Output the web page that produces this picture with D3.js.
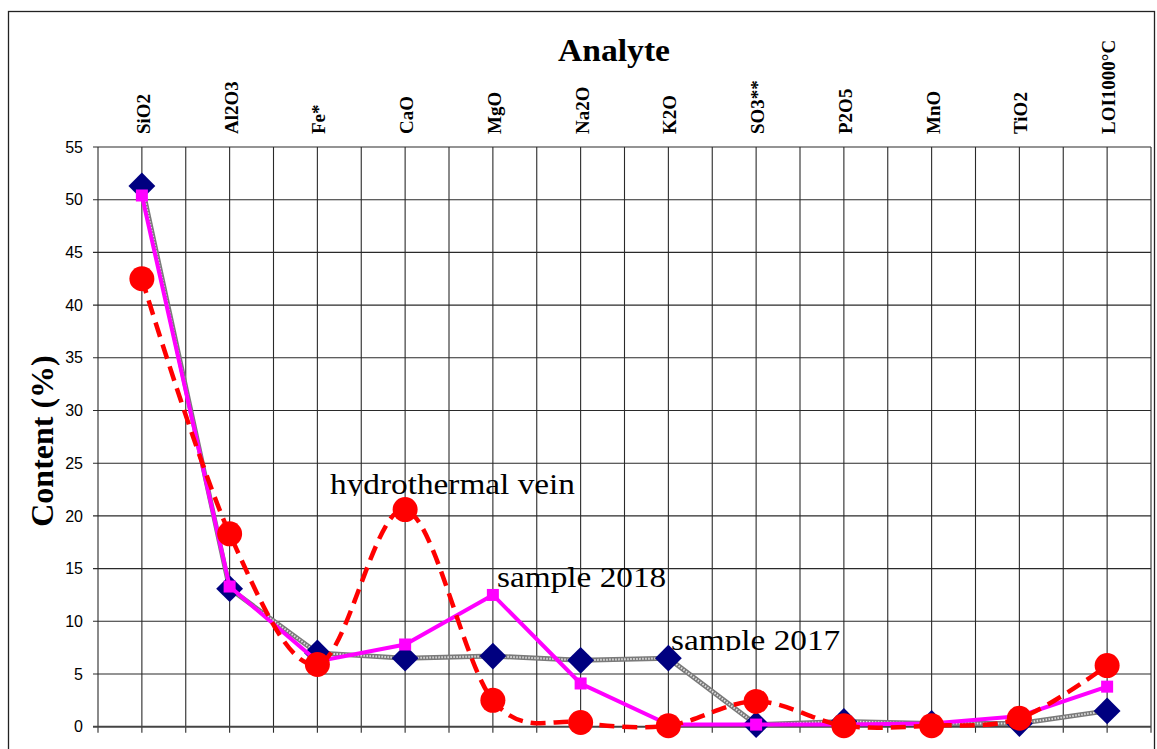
<!DOCTYPE html>
<html>
<head>
<meta charset="utf-8">
<script src="https://cdn.jsdelivr.net/npm/d3@7"></script>
<style>
  body { margin: 0; background: #fff; }
  svg { display: block; }
</style>
</head>
<body>
<div id="main"></div>
<script>
const categories = ["SiO2", "Al2O3", "Fe*", "CaO", "MgO", "Na2O", "K2O", "SO3**", "P2O5", "MnO", "TiO2", "LOI1000°C"];
const sample2017 = [51.3, 13.1, 7.0, 6.5, 6.7, 6.3, 6.5, 0.2, 0.5, 0.3, 0.3, 1.5];
const sample2018 = [50.4, 13.3, 6.2, 7.8, 12.5, 4.1, 0.2, 0.2, 0.2, 0.3, 1.0, 3.8];
const vein = [42.5, 18.3, 5.9, 20.6, 2.5, 0.4, 0.1, 2.4, 0.1, 0.1, 0.8, 5.8];
const yTicks = [0, 5, 10, 15, 20, 25, 30, 35, 40, 45, 50, 55];

const width = 1157, height = 749;
const plotL = 98, plotR = 1151, plotT = 147, plotB = 726.7;

const svg = d3.select('#main')
    .append('svg')
    .attr('width', width)
    .attr('height', height);

// outer chart border
svg.append('rect')
    .attr('x', 8.5).attr('y', 11.5)
    .attr('width', 1146).attr('height', 760)
    .attr('fill', 'none')
    .attr('stroke', '#222')
    .attr('stroke-width', 1.3);

const x = d3.scaleBand().domain(categories).range([plotL, plotR]);
const bw = x.bandwidth();
const cx = d => x(d) + bw / 2;
const y = d3.scaleLinear().domain([0, 55]).range([plotB, plotT]);

// vertical gridlines at band edges and centres
const vLines = [];
categories.forEach(c => { vLines.push(x(c)); vLines.push(cx(c)); });
vLines.push(plotR);

const grid = svg.append('g');
grid.selectAll('line.v')
    .data(vLines)
    .enter().append('line')
    .attr('class', 'v')
    .attr('x1', d => d).attr('x2', d => d)
    .attr('y1', plotT).attr('y2', plotB + 6)
    .attr('stroke', '#2a2a2a')
    .attr('stroke-width', 1.1);

grid.selectAll('line.h')
    .data(yTicks)
    .enter().append('line')
    .attr('class', 'h')
    .attr('x1', plotL - 5).attr('x2', plotR)
    .attr('y1', d => y(d)).attr('y2', d => y(d))
    .attr('stroke', d => d === 0 ? '#444' : '#2a2a2a')
    .attr('stroke-width', d => d === 0 ? 2 : 1.1);

// y tick labels
svg.append('g').selectAll('text')
    .data(yTicks)
    .enter().append('text')
    .attr('x', 83)
    .attr('y', d => y(d))
    .attr('dy', '0.35em')
    .attr('text-anchor', 'end')
    .style('font-family', 'Liberation Sans, Arial, sans-serif')
    .style('font-size', '16px')
    .text(d => d);

// category labels (rotated, above plot)
svg.append('g').selectAll('text')
    .data(categories)
    .enter().append('text')
    .attr('transform', d => `translate(${cx(d) + 8},134) rotate(-90)`)
    .attr('text-anchor', 'start')
    .style('font-family', 'Liberation Serif, Times New Roman, serif')
    .style('font-weight', 'bold')
    .style('font-size', '19px')
    .text(d => d);

svg.append('text')
    .attr('transform', 'translate(614,61) scale(1.05,1)')
    .attr('text-anchor', 'middle')
    .style('font-family', 'Liberation Serif, Times New Roman, serif')
    .style('font-weight', 'bold')
    .style('font-size', '32px')
    .text('Analyte');

svg.append('text')
    .attr('transform', 'translate(53,441) rotate(-90)')
    .attr('text-anchor', 'middle')
    .style('font-family', 'Liberation Serif, Times New Roman, serif')
    .style('font-weight', 'bold')
    .style('font-size', '32px')
    .text('Content (%)');

const pts = vals => categories.map((c, i) => [cx(c), y(vals[i])]);

// sample 2017: grey patterned line + navy diamonds
const line = d3.line();
svg.append('path')
    .attr('d', line(pts(sample2017)))
    .attr('fill', 'none')
    .attr('stroke', '#7a7a7a')
    .attr('stroke-width', 5);
svg.append('path')
    .attr('d', line(pts(sample2017)))
    .attr('fill', 'none')
    .attr('stroke', '#e0e0e0')
    .attr('stroke-width', 2)
    .attr('stroke-dasharray', '1.5,1.5');
svg.append('g').selectAll('path')
    .data(pts(sample2017))
    .enter().append('path')
    .attr('d', d3.symbol(d3.symbolSquare, 360))
    .attr('transform', d => `translate(${d[0]},${d[1]}) rotate(45)`)
    .attr('fill', '#000080');

// sample 2018: magenta line + squares
svg.append('path')
    .attr('d', line(pts(sample2018)))
    .attr('fill', 'none')
    .attr('stroke', '#ff00ff')
    .attr('stroke-width', 4);
svg.append('g').selectAll('rect')
    .data(pts(sample2018))
    .enter().append('rect')
    .attr('x', d => d[0] - 6).attr('y', d => d[1] - 6)
    .attr('width', 12).attr('height', 12)
    .attr('fill', '#ff00ff');

// hydrothermal vein: smoothed red dashed line + circles
svg.append('path')
    .attr('d', d3.line().curve(d3.curveCatmullRom.alpha(0))(pts(vein)))
    .attr('fill', 'none')
    .attr('stroke', '#ff0000')
    .attr('stroke-width', 4.5)
    .attr('stroke-dasharray', '15,8');
svg.append('g').selectAll('circle')
    .data(pts(vein))
    .enter().append('circle')
    .attr('cx', d => d[0]).attr('cy', d => d[1])
    .attr('r', 12.5)
    .attr('fill', '#ff0000');

// series labels
const defs = svg.append('defs');
const labels = [
  {text: 'hydrothermal vein', x: 330, y: 494, clip: 496},
  {text: 'sample 2018', x: 497, y: 587, clip: 600},
  {text: 'sample 2017', x: 671, y: 650, clip: 651}
];
labels.forEach((l, i) => {
  defs.append('clipPath').attr('id', 'clip' + i)
    .append('rect').attr('x', l.x - 5).attr('y', l.y - 40)
    .attr('width', 300).attr('height', l.clip - (l.y - 40));
  svg.append('g')
    .attr('clip-path', `url(#clip${i})`)
    .append('text')
    .attr('transform', `translate(${l.x},${l.y}) scale(1.11,1)`)
    .style('font-family', 'Liberation Serif, Times New Roman, serif')
    .style('font-size', '30px')
    .text(l.text);
});
</script>
</body>
</html>
